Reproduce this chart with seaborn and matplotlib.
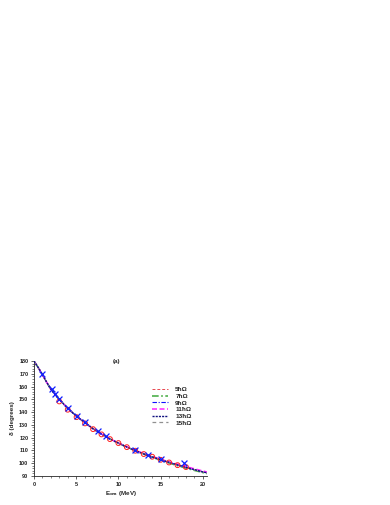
import numpy as np
import pandas as pd
import matplotlib
matplotlib.use("Agg")
import matplotlib.pyplot as plt
import seaborn as sns
from matplotlib.ticker import MultipleLocator

# --- data ---
energy = [0, 0.5, 1, 1.5, 2, 3, 4, 5, 6, 7, 8, 9, 10, 11, 12, 13, 14, 15, 16, 17, 18, 19, 20, 20.5]
phase_5 = [180, 175, 169.5, 163.5, 158, 150, 143, 137, 132, 127, 122.8, 119, 115.8, 112.7, 110, 107.3, 105, 102.8, 100.7, 98.7, 96.8, 95, 93.2, 92.4]
phase_7 = [180, 175, 169.5, 163.5, 158, 150, 143, 137, 132, 127, 122.8, 119, 115.7, 112.6, 109.8, 107.1, 104.7, 102.4, 100.2, 98.1, 96.2, 94.4, 92.7, 91.9]
phase_9 = [180, 175, 169.5, 163.5, 158, 150, 143, 137, 132, 127, 122.8, 119, 115.8, 112.7, 110, 107.3, 105, 102.8, 100.7, 98.7, 96.8, 95, 93.3, 92.5]
phase_11 = [180, 175, 169.5, 163.5, 158, 150, 143, 137, 132, 127, 122.9, 119.1, 115.9, 112.9, 110.2, 107.6, 105.3, 103.1, 101.1, 99.2, 97.4, 95.6, 93.9, 93.1]
phase_13 = [180, 175, 169.5, 163.5, 158, 150, 143, 137, 132, 127, 122.8, 119, 115.8, 112.7, 110, 107.3, 105, 102.8, 100.7, 98.7, 96.8, 95, 93.2, 92.5]
phase_15 = [180, 175, 169.5, 163.5, 158, 150, 143, 137, 132, 127, 122.8, 119, 115.7, 112.6, 109.9, 107.2, 104.9, 102.6, 100.5, 98.5, 96.6, 94.8, 93.0, 92.2]

series_labels = ["5ħΩ", "7ħΩ", "9ħΩ", "11ħΩ", "13ħΩ", "15ħΩ"]
series_values = [phase_5, phase_7, phase_9, phase_11, phase_13, phase_15]

# experimental points
circle_e = [3.0, 4.0, 5.05, 6.05, 7.0, 8.0, 9.0, 10.0, 11.0, 12.0, 13.0, 14.0, 15.0, 16.0, 17.0, 18.0]
circle_d = [148.4, 141.9, 136.1, 131.2, 126.7, 122.6, 118.9, 115.8, 112.6, 109.8, 107.2, 105.1, 102.7, 100.6, 98.5, 97.0]
cross_e = [0.95, 2.1, 2.55, 3.0, 4.05, 5.1, 6.05, 7.55, 8.5, 11.95, 13.55, 15.05, 17.8]
cross_d = [169.6, 157.8, 153.9, 150.5, 142.9, 136.9, 132.2, 125.4, 121.3, 110.3, 106.1, 103.5, 99.8]

styles = {
    "5ħΩ": dict(color="#e8474f", ls=(0, (3, 2)), lw=0.7, z=2),
    "7ħΩ": dict(color="#4daf4a", ls=(0, (4, 1.5, 1, 1.5)), lw=1.2, z=2),
    "9ħΩ": dict(color="#1010ff", ls=(0, (4, 1.5, 1, 1.5)), lw=0.8, z=2),
    "11ħΩ": dict(color="#ff33ff", ls=(0, (3, 1.5)), lw=1.2, z=2),
    "13ħΩ": dict(color="#101080", ls=(0, (1.5, 0.8)), lw=1.0, z=4),
    "15ħΩ": dict(color="#909090", ls=(0, (3, 2.5)), lw=0.9, z=3),
}

rows = []
for lab, vals in zip(series_labels, series_values):
    for e, d in zip(energy, vals):
        rows.append({"E": e, "delta": d, "model": lab})
df = pd.DataFrame(rows)

sns.set_style("ticks")
plt.rcParams["font.family"] = ["Liberation Sans", "DejaVu Sans"]

fig = plt.figure(figsize=(3.9, 5.05), dpi=100)
ax = fig.add_axes([0.087, 0.0574, 0.444, 0.2276])

for lab in series_labels:
    st = styles[lab]
    sub = df[df["model"] == lab]
    sns.lineplot(data=sub, x="E", y="delta", ax=ax, color=st["color"], lw=st["lw"],
                 linestyle=st["ls"], label=lab, estimator=None, sort=True, zorder=st["z"])

sns.scatterplot(x=circle_e, y=circle_d, ax=ax, marker="o", s=12, facecolor="none",
                edgecolor="#ff2020", linewidth=0.7, zorder=5)
sns.scatterplot(x=cross_e, y=cross_d, ax=ax, marker="x", s=18, color="#1020ff",
                linewidth=0.9, zorder=6)

ax.set_xlim(0, 20.5)
ax.set_ylim(90, 180)
ax.xaxis.set_major_locator(MultipleLocator(5))
ax.xaxis.set_minor_locator(MultipleLocator(1))
ax.yaxis.set_major_locator(MultipleLocator(10))
ax.yaxis.set_minor_locator(MultipleLocator(2))
ax.tick_params(axis="both", which="major", labelsize=4, length=2.5, width=0.5, pad=1.5)
ax.tick_params(axis="both", which="minor", length=1.3, width=0.4)
for lbl in ax.get_xticklabels() + ax.get_yticklabels():
    lbl.set_fontweight("bold")
for sp in ax.spines.values():
    sp.set_linewidth(0.6)
sns.despine(ax=ax)

ax.set_xlabel("E$_{\\mathbf{cm}}$ (MeV)", fontsize=4.5, fontweight="bold", labelpad=2)
ax.set_ylabel("δ (degrees)", fontsize=4.5, fontweight="bold", labelpad=3)
ax.text(0.48, 1.0, "(a)", transform=ax.transAxes, ha="center", va="center",
        fontsize=4.5, fontweight="bold")

leg = ax.legend(loc="upper left", bbox_to_anchor=(0.65, 0.825), frameon=False,
                fontsize=4.6, handlelength=2.4, handletextpad=1.2, labelspacing=0.18,
                borderpad=0.4, markerfirst=True)
for t in leg.get_texts():
    t.set_fontweight("bold")

fig.savefig("out.png", dpi=100)
